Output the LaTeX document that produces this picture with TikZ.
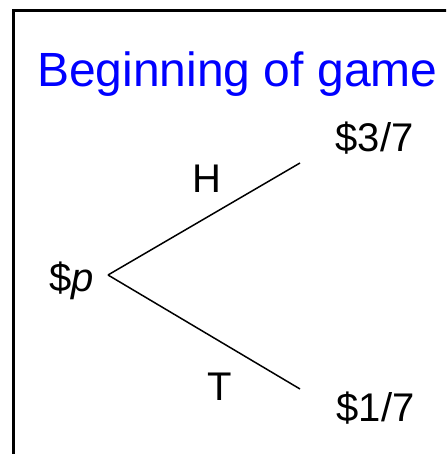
\documentclass[tikz,border=0pt]{standalone}
\usepackage{fontspec}
\setmainfont{Liberation Sans}
\begin{document}
\begin{tikzpicture}[x=1pt,y=1pt,
  lbl/.style={inner sep=0pt,anchor=base west,font=\fontsize{40}{48}\selectfont},
  ttl/.style={inner sep=0pt,anchor=base west,text=blue,font=\fontsize{48}{56}\selectfont},
  branch/.style={line width=1.5pt},
  frame/.style={line width=3pt}]
\useasboundingbox (0,0) rectangle (446,454);
\clip (0,0) rectangle (446,454);
\draw[frame] (13,443.5) rectangle (470,-30);
\node[ttl] (title) at (37,367) {Beginning of game};
\coordinate (root) at (108,179);
\coordinate (up) at (300,291);
\coordinate (down) at (300,65);
\draw[branch] (root) -- (up);
\draw[branch] (root) -- (down);
\node[lbl] (p) at (49,162) {\$\textit{p}};
\node[lbl] (H) at (192,261) {H};
\node[lbl] (T) at (207,53) {T};
\node[lbl] (v3) at (335.5,302) {\$3/7};
\node[lbl] (v1) at (336.5,32) {\$1/7};
\end{tikzpicture}
\end{document}
